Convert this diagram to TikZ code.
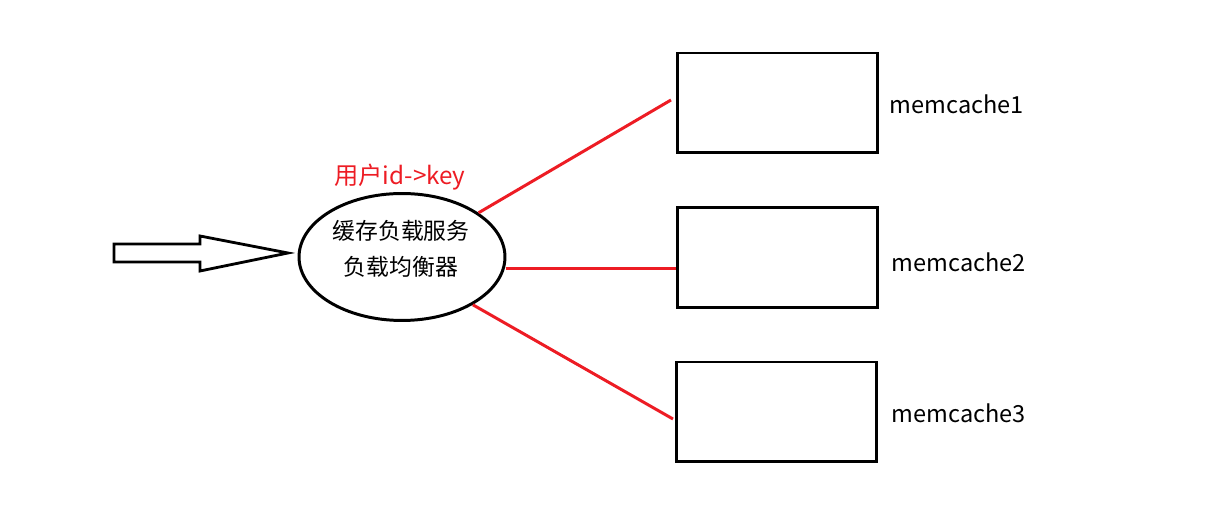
\documentclass[tikz,border=0pt]{standalone}
\usepackage{fontspec}
\usetikzlibrary{shapes.geometric}
\setmainfont{Noto Sans CJK SC}
\definecolor{paintred}{HTML}{ED1C24}
\tikzset{
    server/.style={draw, line width=1.7pt, minimum width=4.02cm, minimum height=2cm, inner sep=0pt},
    link/.style={draw=paintred, line width=1.7pt},
    tag/.style={font=\fontsize{13.4pt}{15pt}\selectfont, anchor=center}
}
\begin{document}
\begin{tikzpicture}[x=0.02cm, y=-0.02cm]
    \useasboundingbox (0,0) rectangle (1225,526);

    % Draw the incoming block arrow
    \draw[line width=1.6pt, line join=miter] (114,244) -- (200,244) -- (200,236) -- (288,253)
        -- (200,271) -- (200,262) -- (114,262) -- cycle;

    % Draw the balancer
    \node[draw, ellipse, line width=1.7pt, minimum width=4.12cm, minimum height=2.54cm, inner sep=0pt]
          (lb) at (402,257) {};
    \node[align=center, font=\fontsize{13pt}{20.5pt}\selectfont] (lbtext) at (401,249)
          {缓存负载服务\\负载均衡器};
    \node[text=paintred, font=\fontsize{13.8pt}{15pt}\selectfont] (hash) at (400,177) {用户id->key};

    % Draw the cache servers
    \node[server] (mc1) at (777.5,103) {};
    \node[server] (mc2) at (777.5,257.5) {};
    \node[server] (mc3) at (776.5,412) {};
    \node[tag] (name1) at (957,104) {memcache1};
    \node[tag] (name2) at (959,262) {memcache2};
    \node[tag] (name3) at (959,413) {memcache3};

    % Add the links
    \coordinate (end1) at (671,100);
    \coordinate (end3) at (673,419);
    \draw[link] (lb.30) -- (end1);
    \draw[link] (lb.east |- 0,268.5) -- (mc2.west |- 0,268.5);
    \draw[link] (lb.-34) -- (end3);
\end{tikzpicture}
\end{document}
